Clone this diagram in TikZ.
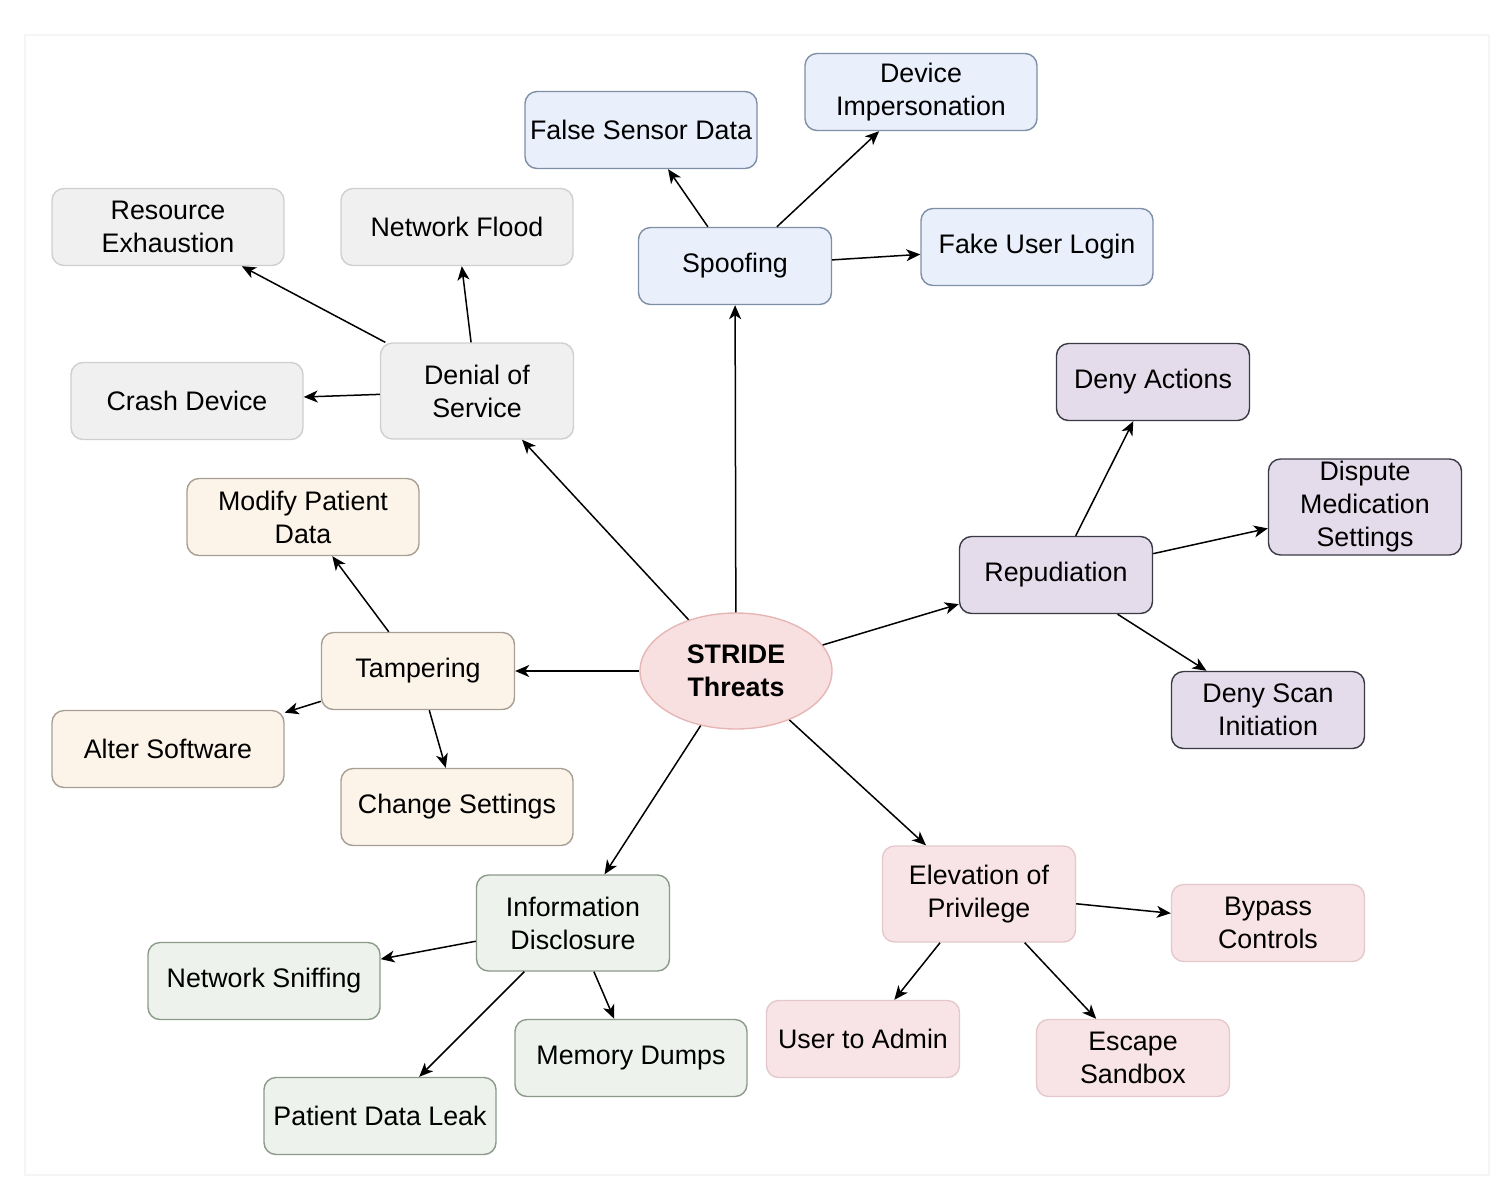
\documentclass[tikz,border=0pt]{standalone}
\usepackage{fontspec}
\setmainfont{Liberation Sans}
\usetikzlibrary{shapes.geometric,arrows.meta}

\definecolor{spoofFill}{HTML}{E9EFFB}
\definecolor{spoofLine}{HTML}{7F8FA6}
\definecolor{dosFill}{HTML}{F0F0F0}
\definecolor{dosLine}{HTML}{CFCFCF}
\definecolor{tampFill}{HTML}{FCF4E8}
\definecolor{tampLine}{HTML}{A89F94}
\definecolor{repFill}{HTML}{E4DCEA}
\definecolor{repLine}{HTML}{3A3A45}
\definecolor{infoFill}{HTML}{EDF3EC}
\definecolor{infoLine}{HTML}{8C9A8A}
\definecolor{elevFill}{HTML}{F8E4E6}
\definecolor{elevLine}{HTML}{E4C9CC}
\definecolor{rootFill}{HTML}{F9E0E0}
\definecolor{rootLine}{HTML}{D99A9A}

\begin{document}
\begin{tikzpicture}[x=0.5pt, y=-0.5pt,
    font=\fontsize{13.4}{16.5}\selectfont,
    box/.style={draw, rounded corners=6pt, line width=0.7pt, align=center,
        inner sep=0pt, minimum height=38.5pt},
    wbox/.style={box, minimum width=116pt},
    nbox/.style={box, minimum width=96.5pt},
    tall/.style={minimum height=48pt},
    spoofc/.style={fill=spoofFill, draw=spoofLine},
    dosc/.style={fill=dosFill, draw=dosLine},
    tampc/.style={fill=tampFill, draw=tampLine},
    repc/.style={fill=repFill, draw=repLine},
    infoc/.style={fill=infoFill, draw=infoLine},
    elevc/.style={fill=elevFill, draw=elevLine},
    arr/.style={line width=0.75pt, -{Stealth[length=7pt, width=6pt, inset=2pt]}}
    ]
    \useasboundingbox (0,0) rectangle (1512,1196);
    \draw [black!4, line width=1pt] (25,35) rectangle (1489,1175);

    % centre
    \node [ellipse, draw=rootFill!40!rootLine, fill=rootFill, line width=0.7pt,
        minimum width=96pt, minimum height=58pt, inner sep=0pt, align=center,
        font=\fontsize{13.4}{16.5}\selectfont\bfseries] (stride) at (736,671) {STRIDE\\Threats};

    % spoofing
    \node [nbox, spoofc] (spoof) at (735,266) {Spoofing};
    \node [wbox, spoofc] (sensor) at (641,130) {False Sensor Data};
    \node [wbox, spoofc] (impers) at (921,92) {Device\\Impersonation};
    \node [wbox, spoofc] (login) at (1037,247) {Fake User Login};

    % denial of service
    \node [nbox, tall, dosc] (dos) at (477,391) {Denial of\\Service};
    \node [wbox, dosc] (exhaust) at (168,227) {Resource\\Exhaustion};
    \node [wbox, dosc] (flood) at (457,227) {Network Flood};
    \node [wbox, dosc] (crash) at (187,401) {Crash Device};

    % tampering
    \node [nbox, tampc] (tamper) at (418,671) {Tampering};
    \node [wbox, tampc] (modify) at (303,517) {Modify Patient\\Data};
    \node [wbox, tampc] (alter) at (168,749) {Alter Software};
    \node [wbox, tampc] (change) at (457,807) {Change Settings};

    % repudiation
    \node [nbox, repc] (repud) at (1056,575) {Repudiation};
    \node [nbox, repc] (denyact) at (1153,382) {Deny Actions};
    \node [nbox, tall, repc] (dispute) at (1365,507) {Dispute\\Medication\\Settings};
    \node [nbox, repc] (denyscan) at (1268,710) {Deny Scan\\Initiation};

    % information disclosure
    \node [nbox, tall, infoc] (info) at (573,923) {Information\\Disclosure};
    \node [wbox, infoc] (sniff) at (264,981) {Network Sniffing};
    \node [wbox, infoc] (dumps) at (631,1058) {Memory Dumps};
    \node [wbox, infoc] (leak) at (380,1116) {Patient Data Leak};

    % elevation of privilege
    \node [nbox, tall, elevc] (elev) at (979,894) {Elevation of\\Privilege};
    \node [nbox, elevc] (bypass) at (1268,923) {Bypass\\Controls};
    \node [nbox, elevc] (admin) at (863,1039) {User to Admin};
    \node [nbox, elevc] (sandbox) at (1133,1058) {Escape\\Sandbox};

    \foreach \a/\b in {stride/spoof, stride/dos, stride/tamper, stride/repud, stride/info, stride/elev,
        spoof/sensor, spoof/impers, spoof/login,
        dos/exhaust, dos/flood, dos/crash,
        tamper/modify, tamper/alter, tamper/change,
        repud/denyact, repud/dispute, repud/denyscan,
        info/sniff, info/dumps, info/leak,
        elev/bypass, elev/admin, elev/sandbox}{
        \draw [arr] (\a) -- (\b);
    }

\end{tikzpicture}
\end{document}
